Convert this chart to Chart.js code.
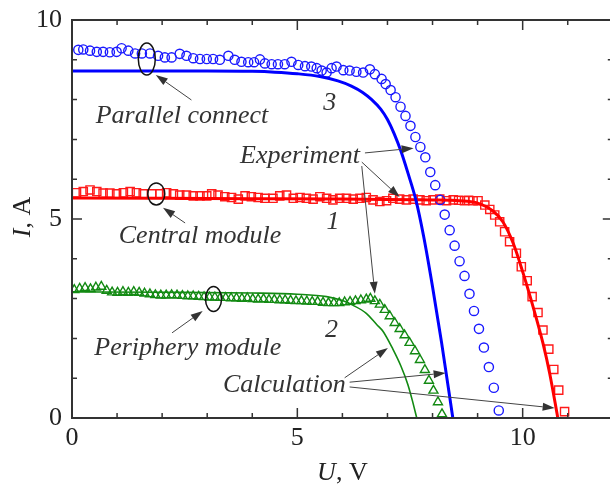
<!DOCTYPE html>
<html>
<head>
<meta charset="utf-8">
<script src="https://cdn.jsdelivr.net/npm/chart.js@4.4.1/dist/chart.umd.min.js"></script>
<style>
  html, body { margin: 0; padding: 0; background: #fff; overflow: hidden; }
  #chart1 { display: block; }
</style>
</head>
<body>
<canvas id="chart1" width="620" height="486"></canvas>
<script>
// parallel connection, experiment (blue circles)
var parU = [0.14,0.25,0.40,0.55,0.69,0.84,0.99,1.10,1.25,1.40,1.55,1.73,1.91,2.06,2.21,2.39,2.54,2.69,2.84,2.99,
            3.13,3.28,3.47,3.61,3.76,3.91,4.04,4.17,4.28,4.43,4.57,4.72,4.87,5.02,5.17,5.31,5.43,5.54,5.65,5.76,
            5.87,6.02,6.16,6.31,6.46,6.61,6.72,6.87,6.96,7.07,7.18,7.29,7.40,7.51,7.62,7.73,7.84,7.95,8.06,8.17,
            8.27,8.38,8.49,8.60,8.71,8.82,8.92,9.03,9.14,9.25,9.36,9.47];
var parI = [9.25,9.26,9.23,9.20,9.20,9.19,9.20,9.29,9.23,9.16,9.16,9.16,9.10,9.06,9.06,9.15,9.10,9.04,9.02,9.02,
            9.02,9.00,9.10,9.00,8.95,8.94,8.94,9.01,8.91,8.89,8.89,8.89,8.95,8.87,8.84,8.83,8.79,8.73,8.68,8.79,
            8.83,8.74,8.73,8.70,8.68,8.76,8.64,8.52,8.39,8.24,8.06,7.82,7.59,7.34,7.06,6.81,6.55,6.18,5.85,5.48,
            5.11,4.72,4.33,3.94,3.57,3.12,2.69,2.24,1.77,1.28,0.76,0.19];
// parallel connection, calculation
var parCalcU = [0, 1, 2, 3, 4, 4.5, 5.0, 5.5, 5.9, 6.2, 6.45, 6.65, 6.85, 7.0, 7.15, 7.3, 7.45, 7.63, 7.8, 8.0, 8.2, 8.45];
var parCalcI = [8.72, 8.72, 8.72, 8.72, 8.71, 8.69, 8.65, 8.58, 8.47, 8.34, 8.18, 8.00, 7.76, 7.50, 7.14, 6.70, 6.17, 5.48, 4.58, 3.30, 1.90, 0];

// central module, experiment (red squares)
var cenU = [0.10,0.25,0.40,0.55,0.69,0.84,0.99,1.14,1.29,1.43,1.58,1.77,1.95,2.10,2.25,2.39,2.54,2.69,2.84,2.99,
            3.10,3.24,3.39,3.54,3.69,3.84,3.98,4.13,4.28,4.46,4.61,4.76,4.91,5.06,5.20,5.35,5.50,5.65,5.79,5.94,
            6.09,6.24,6.39,6.53,6.68,6.83,6.98,7.12,7.27,7.42,7.57,7.72,7.86,8.01,8.16,8.31,8.46,8.58,8.71,8.80,
            8.90,9.01,9.16,9.27,9.38,9.49,9.60,9.71,9.86,9.97,10.10,10.21,10.34,10.45,10.58,10.69,10.80,10.93];
var cenI = [5.66,5.69,5.73,5.69,5.65,5.65,5.63,5.66,5.69,5.66,5.63,5.63,5.63,5.66,5.63,5.60,5.60,5.58,5.58,5.58,
            5.63,5.60,5.56,5.54,5.50,5.58,5.56,5.54,5.52,5.52,5.58,5.60,5.52,5.54,5.52,5.50,5.56,5.52,5.48,5.52,
            5.52,5.50,5.52,5.54,5.48,5.44,5.46,5.52,5.50,5.48,5.50,5.48,5.46,5.48,5.50,5.46,5.48,5.47,5.46,5.47,
            5.46,5.46,5.35,5.24,5.10,4.93,4.68,4.43,4.14,3.80,3.45,3.05,2.65,2.21,1.73,1.22,0.70,0.16];
// central module, calculation
var cenCalcU = [0, 2, 4, 6, 8, 8.6, 8.97, 9.34, 9.56, 9.79, 10.01, 10.23, 10.45, 10.6, 10.78];
var cenCalcI = [5.53, 5.52, 5.51, 5.50, 5.48, 5.46, 5.41, 5.20, 4.93, 4.39, 3.64, 2.80, 1.88, 1.12, 0];

// periphery module, experiment (green triangles)
var perU = [0.05,0.17,0.29,0.41,0.53,0.65,0.77,0.89,1.01,1.13,1.25,1.37,1.49,1.61,1.73,1.85,1.97,2.09,2.21,2.33,
            2.45,2.57,2.69,2.81,2.93,3.05,3.17,3.29,3.41,3.53,3.65,3.77,3.89,4.01,4.13,4.25,4.37,4.49,4.61,4.73,
            4.85,4.97,5.09,5.21,5.33,5.45,5.57,5.69,5.81,5.93,6.05,6.17,6.29,6.41,6.53,6.62,6.72,6.83,6.94,7.05,
            7.16,7.27,7.38,7.49,7.61,7.72,7.83,7.92,8.02,8.12,8.21];
var perI = [3.22,3.25,3.27,3.24,3.28,3.30,3.20,3.16,3.15,3.17,3.15,3.17,3.15,3.13,3.11,3.09,3.08,3.08,3.09,3.08,
            3.07,3.06,3.06,3.05,3.04,3.03,3.03,3.02,3.02,3.01,3.01,3.00,3.01,2.99,2.98,2.99,2.97,2.97,2.96,2.96,
            2.95,2.94,2.94,2.93,2.92,2.92,2.90,2.89,2.89,2.89,2.91,2.92,2.94,2.96,2.98,3.00,2.94,2.85,2.72,2.56,
            2.39,2.24,2.08,1.89,1.68,1.46,1.21,0.94,0.69,0.40,0.10];
// periphery module, calculation
var perCalcU = [0, 2, 4, 5, 5.65, 6.0, 6.24, 6.53, 6.76, 6.9, 7.12, 7.3, 7.45, 7.55, 7.65];
var perCalcI = [3.17, 3.16, 3.14, 3.11, 3.05, 2.95, 2.83, 2.63, 2.35, 2.18, 1.73, 1.30, 0.85, 0.45, 0];

var xTicksMajor = [0, 5, 10];
var yTicksMajor = [0, 5, 10];

// labels, rings and arrows are placed in data units (U, I)
var notes = [
  { text: 'Parallel connect', x: 2.44, y: 7.41 },
  { text: '3', x: 5.72, y: 7.74 },
  { text: 'Experiment', x: 5.06, y: 6.41 },
  { text: 'Central module', x: 2.84, y: 4.40 },
  { text: '1', x: 5.79, y: 4.75 },
  { text: 'Periphery module', x: 2.57, y: 1.58 },
  { text: '2', x: 5.76, y: 2.04 },
  { text: 'Calculation', x: 4.71, y: 0.66 }
];
var rings = [
  { x: 1.66, y: 9.02, rx: 8.5, ry: 16 },
  { x: 1.87, y: 5.63, rx: 8.5, ry: 11 },
  { x: 3.14, y: 2.99, rx: 8, ry: 12.5 }
];
var arrows = [
  { from: [2.65, 7.99], to: [1.86, 8.62] },
  { from: [2.51, 4.90], to: [2.02, 5.28] },
  { from: [2.22, 2.14], to: [2.90, 2.69] },
  { from: [6.50, 6.66], to: [7.58, 6.78] },
  { from: [6.43, 6.43], to: [7.27, 5.55] },
  { from: [6.43, 6.33], to: [6.72, 3.12] },
  { from: [6.05, 1.01], to: [7.01, 1.76] },
  { from: [6.16, 0.90], to: [8.29, 1.13] },
  { from: [6.16, 0.78], to: [10.71, 0.25] }
];

function pts(xs, ys) {
  return xs.map(function (x, i) { return { x: x, y: ys[i] }; });
}

var serif = "'Liberation Serif', 'Times New Roman', serif";

var framePlugin = {
  id: 'frame',
  afterDatasetsDraw: function (chart) {
    var ctx = chart.ctx, a = chart.chartArea;
    var xs = chart.scales.x, ys = chart.scales.y;
    ctx.save();
    ctx.strokeStyle = '#333';
    ctx.lineWidth = 2;
    ctx.strokeRect(a.left, a.top, a.right - a.left, a.bottom - a.top);
    // inward ticks
    ctx.lineWidth = 1.5;
    ctx.beginPath();
    xs.ticks.forEach(function (t) {
      var px = xs.getPixelForValue(t.value);
      var len = xTicksMajor.indexOf(t.value) >= 0 ? 10 : 5;
      ctx.moveTo(px, a.bottom); ctx.lineTo(px, a.bottom - len);
      ctx.moveTo(px, a.top); ctx.lineTo(px, a.top + len);
    });
    ys.ticks.forEach(function (t) {
      var py = ys.getPixelForValue(t.value);
      var len = yTicksMajor.indexOf(t.value) >= 0 ? 10 : 5;
      ctx.moveTo(a.left, py); ctx.lineTo(a.left + len, py);
      ctx.moveTo(a.right, py); ctx.lineTo(a.right - len, py);
    });
    ctx.stroke();

    // axis titles: italic symbol + upright unit
    ctx.fillStyle = '#222';
    ctx.textBaseline = 'alphabetic';
    ctx.textAlign = 'left';
    var it = 'italic 26px ' + serif, rg = '26px ' + serif;
    ctx.font = it; var wU = ctx.measureText('U').width;
    ctx.font = rg; var wV = ctx.measureText(', V').width;
    var cx = (a.left + a.right) / 2;
    var x0 = cx - (wU + wV) / 2;
    ctx.font = it; ctx.fillText('U', x0, 480);
    ctx.font = rg; ctx.fillText(', V', x0 + wU, 480);

    ctx.font = it; var wI = ctx.measureText('I').width;
    ctx.font = rg; var wA = ctx.measureText(', A').width;
    ctx.translate(30, (a.top + a.bottom) / 2 - 2);
    ctx.rotate(-Math.PI / 2);
    var y0 = -(wI + wA) / 2;
    ctx.font = it; ctx.fillText('I', y0, 0);
    ctx.font = rg; ctx.fillText(', A', y0 + wI, 0);
    ctx.restore();
  }
};

var notesPlugin = {
  id: 'notes',
  afterDraw: function (chart) {
    var ctx = chart.ctx;
    var xs = chart.scales.x, ys = chart.scales.y;
    function P(x, y) { return [xs.getPixelForValue(x), ys.getPixelForValue(y)]; }
    ctx.save();
    ctx.font = 'italic 26px ' + serif;
    ctx.fillStyle = '#333';
    ctx.textAlign = 'center';
    ctx.textBaseline = 'alphabetic';
    notes.forEach(function (n) {
      var p = P(n.x, n.y);
      ctx.fillText(n.text, p[0], p[1]);
    });
    ctx.strokeStyle = '#111';
    ctx.lineWidth = 1.5;
    rings.forEach(function (r) {
      var p = P(r.x, r.y);
      ctx.beginPath();
      ctx.ellipse(p[0], p[1], r.rx, r.ry, 0, 0, Math.PI * 2);
      ctx.stroke();
    });
    ctx.strokeStyle = '#444';
    ctx.fillStyle = '#333';
    ctx.lineWidth = 1;
    arrows.forEach(function (ar) {
      var s = P(ar.from[0], ar.from[1]), e = P(ar.to[0], ar.to[1]);
      var ang = Math.atan2(e[1] - s[1], e[0] - s[0]);
      var hl = 12, hw = 4;
      var bx = e[0] - hl * Math.cos(ang), by = e[1] - hl * Math.sin(ang);
      ctx.beginPath();
      ctx.moveTo(s[0], s[1]);
      ctx.lineTo(bx, by);
      ctx.stroke();
      ctx.beginPath();
      ctx.moveTo(e[0], e[1]);
      ctx.lineTo(bx + hw * Math.sin(ang), by - hw * Math.cos(ang));
      ctx.lineTo(bx - hw * Math.sin(ang), by + hw * Math.cos(ang));
      ctx.closePath();
      ctx.fill();
    });
    ctx.restore();
  }
};

var lineOpts = { showLine: true, pointRadius: 0, fill: false, cubicInterpolationMode: 'monotone' };

// canvas is 620 wide; right padding 7 puts U = 12 at x = 613, just past the visible edge
new Chart(document.getElementById('chart1'), {
  type: 'scatter',
  data: {
    datasets: [
      Object.assign({ label: 'calc 3', data: pts(parCalcU, parCalcI), borderColor: '#0000ff', borderWidth: 3 }, lineOpts),
      Object.assign({ label: 'calc 1', data: pts(cenCalcU, cenCalcI), borderColor: '#ff0000', borderWidth: 3 }, lineOpts),
      Object.assign({ label: 'calc 2', data: pts(perCalcU, perCalcI), borderColor: '#128a12', borderWidth: 1.6 }, lineOpts),
      { label: 'exp 3', data: pts(parU, parI), pointStyle: 'circle', pointRadius: 4.6,
        borderColor: '#1a1aff', backgroundColor: 'rgba(0,0,0,0)', borderWidth: 1.4, showLine: false },
      { label: 'exp 1', data: pts(cenU, cenI), pointStyle: 'rect', pointRadius: 5.8,
        borderColor: '#ff1a1a', backgroundColor: 'rgba(0,0,0,0)', borderWidth: 1.4, showLine: false },
      { label: 'exp 2', data: pts(perU, perI), pointStyle: 'triangle', pointRadius: 5.2,
        borderColor: '#138a13', backgroundColor: 'rgba(0,0,0,0)', borderWidth: 1.4, showLine: false }
    ]
  },
  options: {
    responsive: false,
    animation: false,
    events: [],
    layout: { padding: { top: 20, right: 7, left: 0, bottom: 0 } },
    plugins: { legend: { display: false }, tooltip: { enabled: false } },
    scales: {
      x: {
        type: 'linear', min: 0, max: 12,
        grid: { display: false, drawTicks: false },
        border: { display: false },
        ticks: {
          stepSize: 1, padding: 5, color: '#222', font: { family: serif, size: 26 },
          maxRotation: 0, autoSkip: false,
          callback: function (v) { return xTicksMajor.indexOf(v) >= 0 ? String(v) : ''; }
        },
        afterFit: function (s) { s.height = 68; }
      },
      y: {
        type: 'linear', min: 0, max: 10,
        grid: { display: false, drawTicks: false },
        border: { display: false },
        ticks: {
          stepSize: 1, padding: 10, color: '#222', font: { family: serif, size: 26, lineHeight: 0.7 },
          autoSkip: false,
          callback: function (v) { return yTicksMajor.indexOf(v) >= 0 ? String(v) : ''; }
        },
        afterFit: function (s) { s.width = 72; }
      }
    }
  },
  plugins: [framePlugin, notesPlugin]
});
</script>
</body>
</html>
